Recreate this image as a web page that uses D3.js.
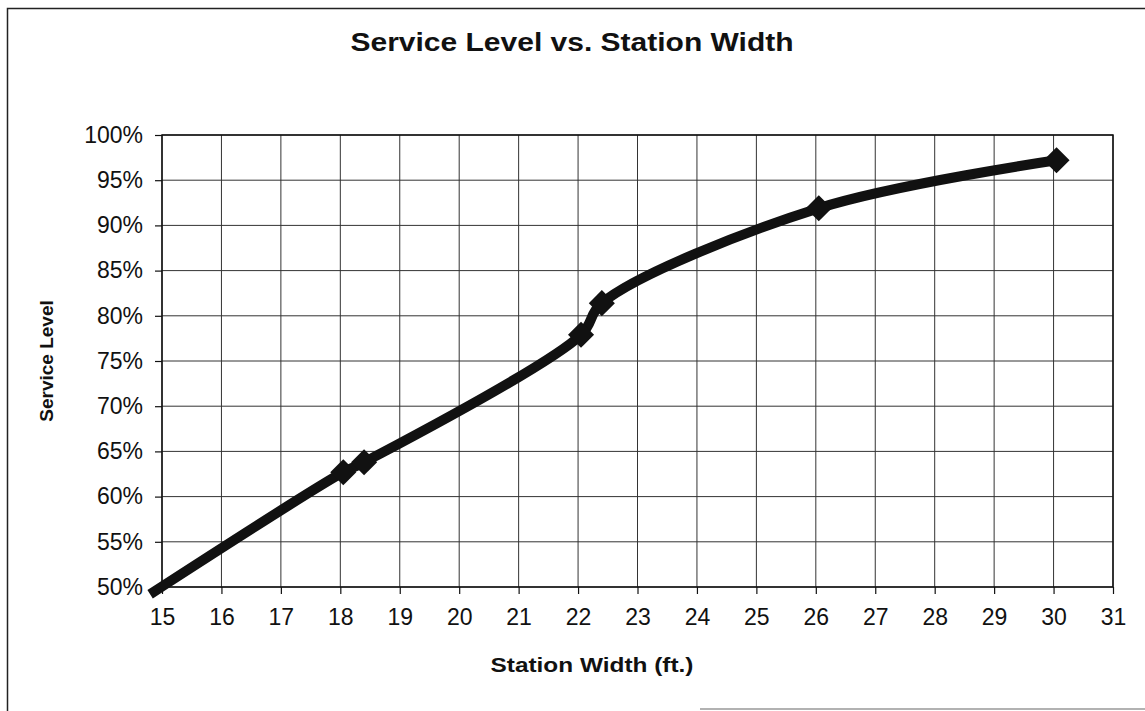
<!DOCTYPE html>
<html>
<head>
<meta charset="utf-8">
<script src="https://cdn.jsdelivr.net/npm/d3@7"></script>
<style>
  body { margin: 0; background: #fff; }
  text { font-family: "Liberation Sans", Arial, sans-serif; fill: #111; }
</style>
</head>
<body>
<svg id="chart" width="1145" height="711"></svg>
<script>
// station width (ft.) and service level
const widths = [14.8, 18.05, 18.4, 22.05, 22.4, 26.05, 30.05];
const levels = [0.492, 0.627, 0.638, 0.779, 0.814, 0.919, 0.972];
const markerShown = [false, true, true, true, true, true, true];
const xTicks = d3.range(15, 32, 1);
const yTicks = d3.range(0.5, 1.0001, 0.05);

const svg = d3.select("#chart"),
    margin = { top: 135, right: 32, bottom: 124, left: 162 },
    width = +svg.attr("width") - margin.left - margin.right,
    height = +svg.attr("height") - margin.top - margin.bottom,
    chart = svg.append("g").attr("transform", `translate(${margin.left},${margin.top})`);

// outer chart border
svg.append("path")
    .attr("d", "M7.5,711 V8.5 H1145")
    .attr("fill", "none")
    .attr("stroke", "#222")
    .attr("stroke-width", 1.5);
svg.append("line")
    .attr("x1", 700).attr("x2", 1145)
    .attr("y1", 709).attr("y2", 709)
    .attr("stroke", "#999")
    .attr("stroke-width", 1.5);

const x = d3.scaleLinear().domain([15, 31]).range([0, width]);
const y = d3.scaleLinear().domain([0.5, 1]).range([height, 0]);

// gridlines
chart.append("g")
    .selectAll("line")
    .data(xTicks)
    .enter()
    .append("line")
    .attr("x1", d => x(d)).attr("x2", d => x(d))
    .attr("y1", 0).attr("y2", height)
    .attr("stroke", "#333")
    .attr("stroke-width", 1);

chart.append("g")
    .selectAll("line")
    .data(yTicks)
    .enter()
    .append("line")
    .attr("x1", 0).attr("x2", width)
    .attr("y1", d => y(d)).attr("y2", d => y(d))
    .attr("stroke", "#333")
    .attr("stroke-width", 1);

chart.append("rect")
    .attr("width", width)
    .attr("height", height)
    .attr("fill", "none")
    .attr("stroke", "#111")
    .attr("stroke-width", 1.5);

const xAxis = chart.append("g")
    .attr("transform", `translate(0,${height})`)
    .call(d3.axisBottom(x).tickValues(xTicks).tickFormat(d3.format("d")).tickSize(7).tickPadding(15));

const yAxis = chart.append("g")
    .call(d3.axisLeft(y).tickValues(yTicks).tickFormat(d3.format(".0%")).tickSize(7).tickPadding(12));

[xAxis, yAxis].forEach(g => {
    g.select(".domain").remove();
    g.selectAll(".tick line").attr("stroke", "#111").attr("stroke-width", 1.2);
    g.selectAll(".tick text")
        .style("font-size", "23px")
        .style("font-family", "'Liberation Sans', Arial, sans-serif")
        .attr("fill", "#111");
});

// series
const points = widths.map((w, i) => ({ w: w, v: levels[i], m: markerShown[i] }));

const line = d3.line()
    .x(d => x(d.w))
    .y(d => y(d.v))
    .curve(d3.curveCatmullRom.alpha(0.5));

chart.append("path")
    .datum(points)
    .attr("d", line)
    .attr("fill", "none")
    .attr("stroke", "#111")
    .attr("stroke-width", 10)
    .attr("stroke-linejoin", "round");

chart.selectAll(".marker")
    .data(points.filter(d => d.m))
    .enter()
    .append("path")
    .attr("class", "marker")
    .attr("d", d3.symbol().type(d3.symbolSquare).size(340))
    .attr("transform", d => `translate(${x(d.w)},${y(d.v)}) rotate(45)`)
    .attr("fill", "#111");

// titles (the scan is a bit wider than tall, so stretch horizontally)
svg.append("text")
    .attr("transform", "translate(572,51) scale(1.2,1)")
    .attr("text-anchor", "middle")
    .style("font-size", "25px")
    .style("font-weight", "bold")
    .text("Service Level vs. Station Width");

svg.append("text")
    .attr("transform", "translate(592,672) scale(1.22,1)")
    .attr("text-anchor", "middle")
    .style("font-size", "20px")
    .style("font-weight", "bold")
    .text("Station Width (ft.)");

svg.append("text")
    .attr("transform", `translate(53,${margin.top + height / 2}) rotate(-90)`)
    .attr("text-anchor", "middle")
    .style("font-size", "19px")
    .style("font-weight", "bold")
    .text("Service Level");
</script>
</body>
</html>
